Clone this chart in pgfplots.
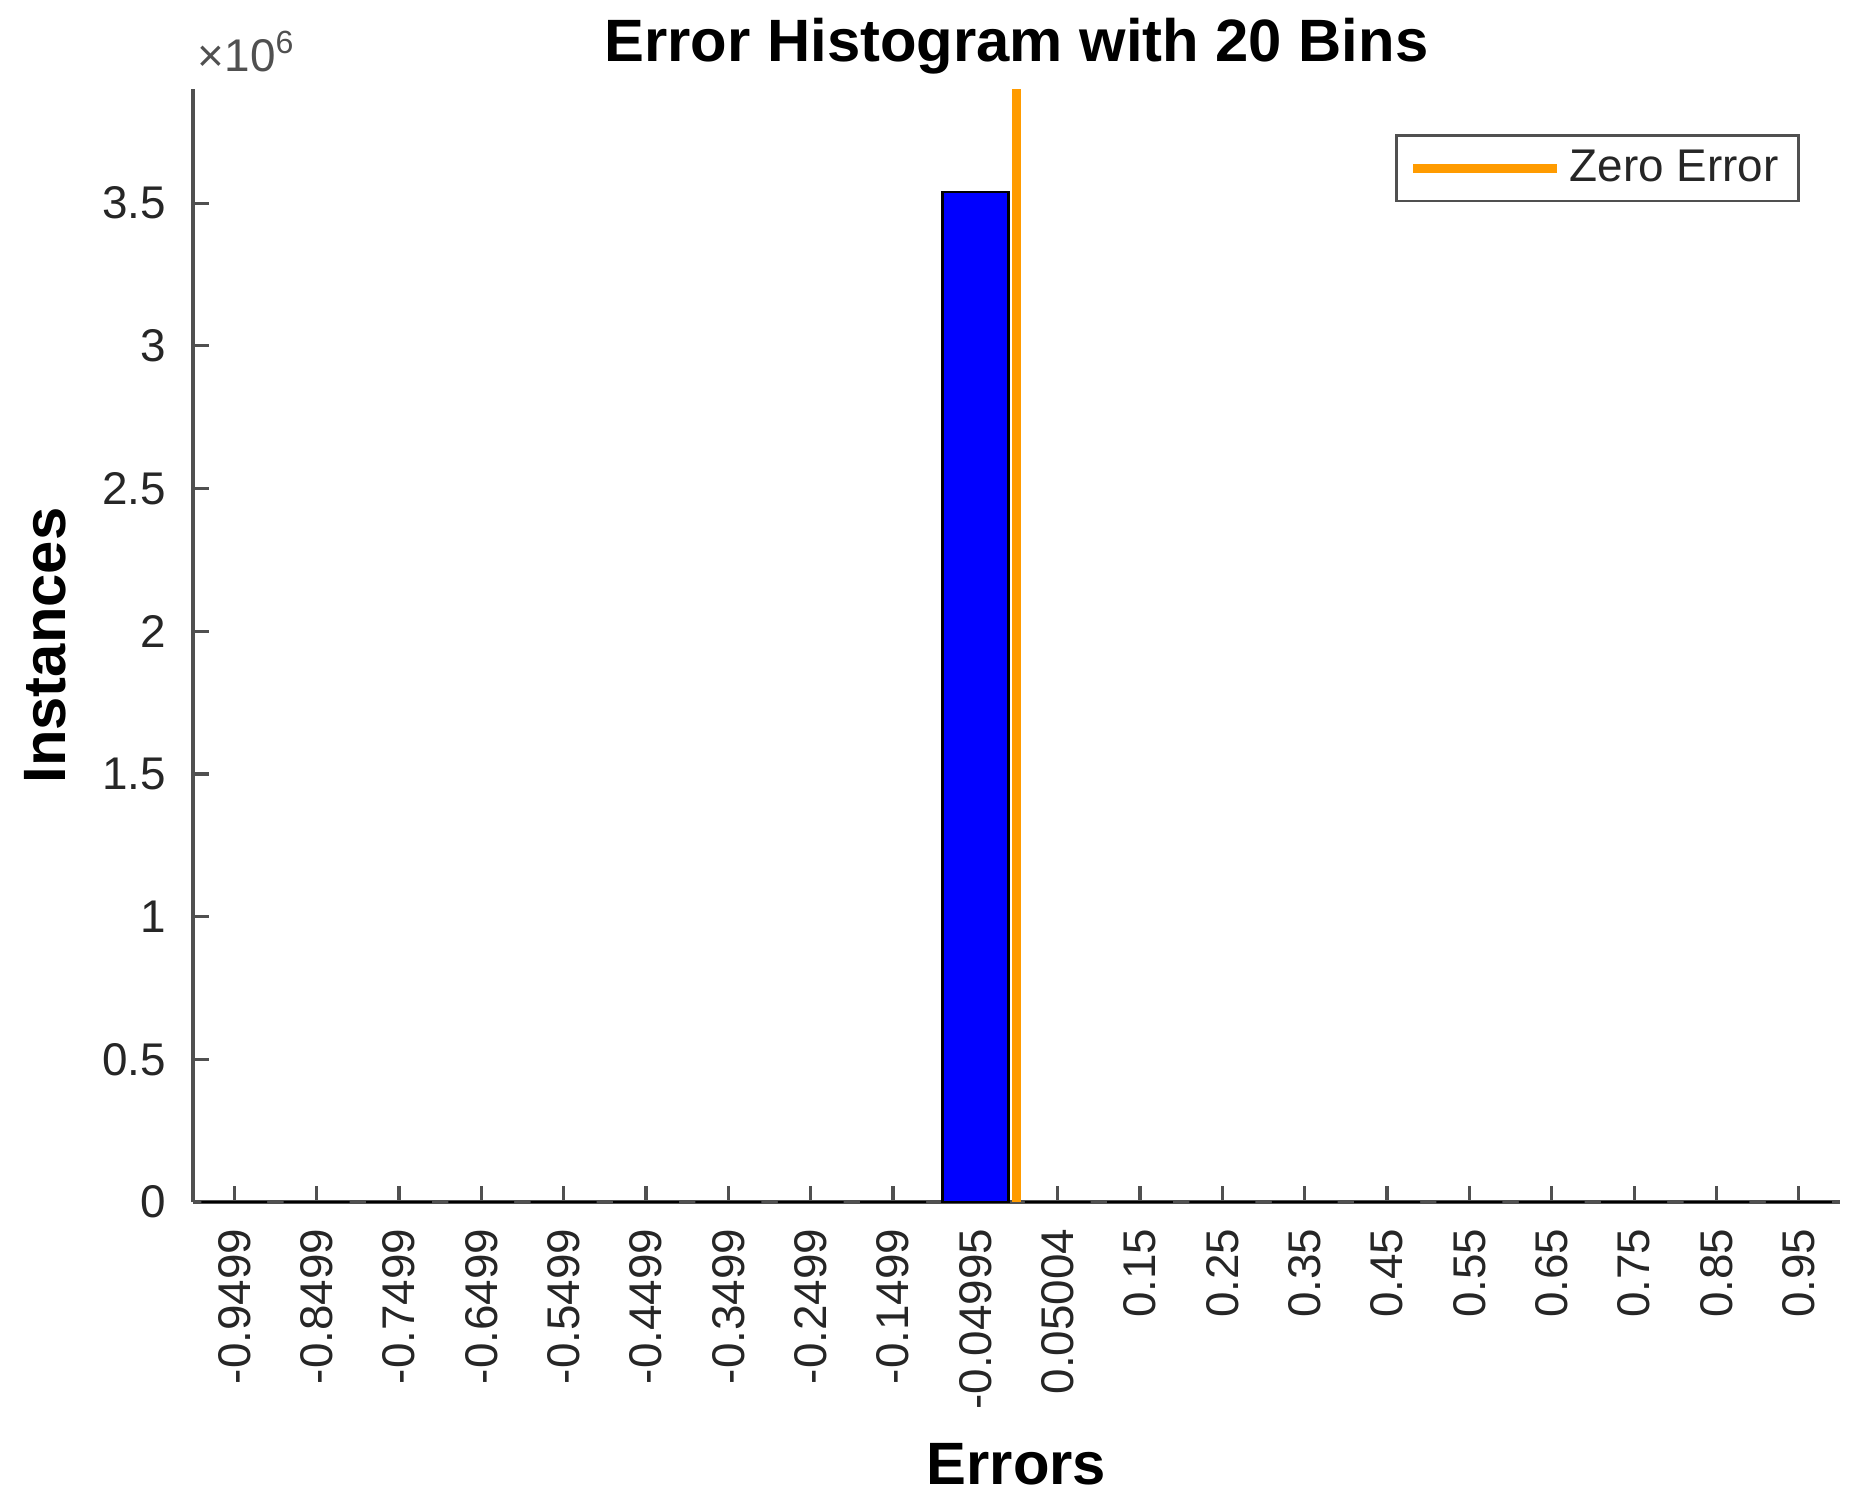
\documentclass[border=0pt]{standalone}
\usepackage{pgfplots}
\pgfplotsset{compat=1.18}
\usepackage{fontspec}
\setmainfont{Liberation Sans}
\definecolor{zeroorange}{RGB}{255,155,0}
\definecolor{axisgray}{RGB}{80,80,80}
\definecolor{labgray}{RGB}{38,38,38}

\begin{document}
\begin{tikzpicture}
  \begin{axis}[
      name=ax,
      scale only axis,
      width=411.75bp, height=278.25bp,
      xmin=-1, xmax=1,
      ymin=0, ymax=3.9e6,
      axis lines=left,
      axis line style={-, draw=axisgray, line width=0.9bp},
      tick align=inside,
      major tick length=4bp,
      tick style={draw=axisgray, line width=0.8bp},
      xtick={-0.9499,-0.8499,-0.7499,-0.6499,-0.5499,-0.4499,-0.3499,-0.2499,-0.1499,-0.04995,0.05004,0.15,0.25,0.35,0.45,0.55,0.65,0.75,0.85,0.95},
      xticklabels={-0.9499,-0.8499,-0.7499,-0.6499,-0.5499,-0.4499,-0.3499,-0.2499,-0.1499,-0.04995,0.05004,0.15,0.25,0.35,0.45,0.55,0.65,0.75,0.85,0.95},
      xticklabel style={rotate=90, anchor=east, font=\fontsize{11.5}{13}\selectfont, text=labgray, inner sep=0pt, xshift=-6.5bp},
      ytick={0,500000,1000000,1500000,2000000,2500000,3000000,3500000},
      yticklabels={0,0.5,1,1.5,2,2.5,3,3.5},
      scaled y ticks=false,
      yticklabel style={font=\fontsize{11.5}{13}\selectfont, text=labgray, inner sep=0pt, xshift=-6.5bp},
      title={Error Histogram with 20 Bins},
      title style={at={(axis description cs:0.5,1)}, anchor=base, yshift=1bp, font=\bfseries\fontsize{15}{17}\selectfont},
      xlabel={Errors},
      xlabel style={at={(axis description cs:0.5,0)}, anchor=base, yshift=-70.5bp, font=\bfseries\fontsize{15}{17}\selectfont},
      ylabel={Instances},
      ylabel style={at={(axis description cs:0,0.5)}, anchor=center, yshift=37bp, font=\bfseries\fontsize{15}{17}\selectfont},
      legend style={at={(axis description cs:1,1)}, anchor=north east, xshift=-10bp, yshift=-11.3bp,
                    draw=axisgray, line width=0.7bp, font=\fontsize{11.5}{13}\selectfont, text=labgray,
                    inner xsep=3bp, inner ysep=1.5bp},
      legend cell align=left,
      legend image code/.code={\draw[#1] (0bp,0bp) -- (36bp,0bp);},
      clip=false,
    ]
    \addplot[ybar, bar width=0.08, fill=blue, draw=black, line width=0.6bp, forget plot] coordinates {
      (-0.9499,0) (-0.8499,0) (-0.7499,0) (-0.6499,0) (-0.5499,0)
      (-0.4499,0) (-0.3499,0) (-0.2499,0) (-0.1499,0) (-0.04995,3540000)
      (0.05004,0) (0.15,0) (0.25,0) (0.35,0) (0.45,0)
      (0.55,0) (0.65,0) (0.75,0) (0.85,0) (0.95,0)
    };
    \addplot[zeroorange, line width=2.3bp] coordinates {(0,0) (0,3900000)};
    \addlegendentry{Zero Error}
  \end{axis}
  \node[anchor=base west, inner sep=0pt, text=axisgray, font=\fontsize{11.5}{13}\selectfont]
    at ([xshift=1bp, yshift=4.5bp]ax.north west) {×10\textsuperscript{6}};
  \path ([xshift=-48.25bp, yshift=-75.25bp]ax.south west) rectangle ([xshift=7.25bp, yshift=22.25bp]ax.north east);
\end{tikzpicture}
\end{document}
